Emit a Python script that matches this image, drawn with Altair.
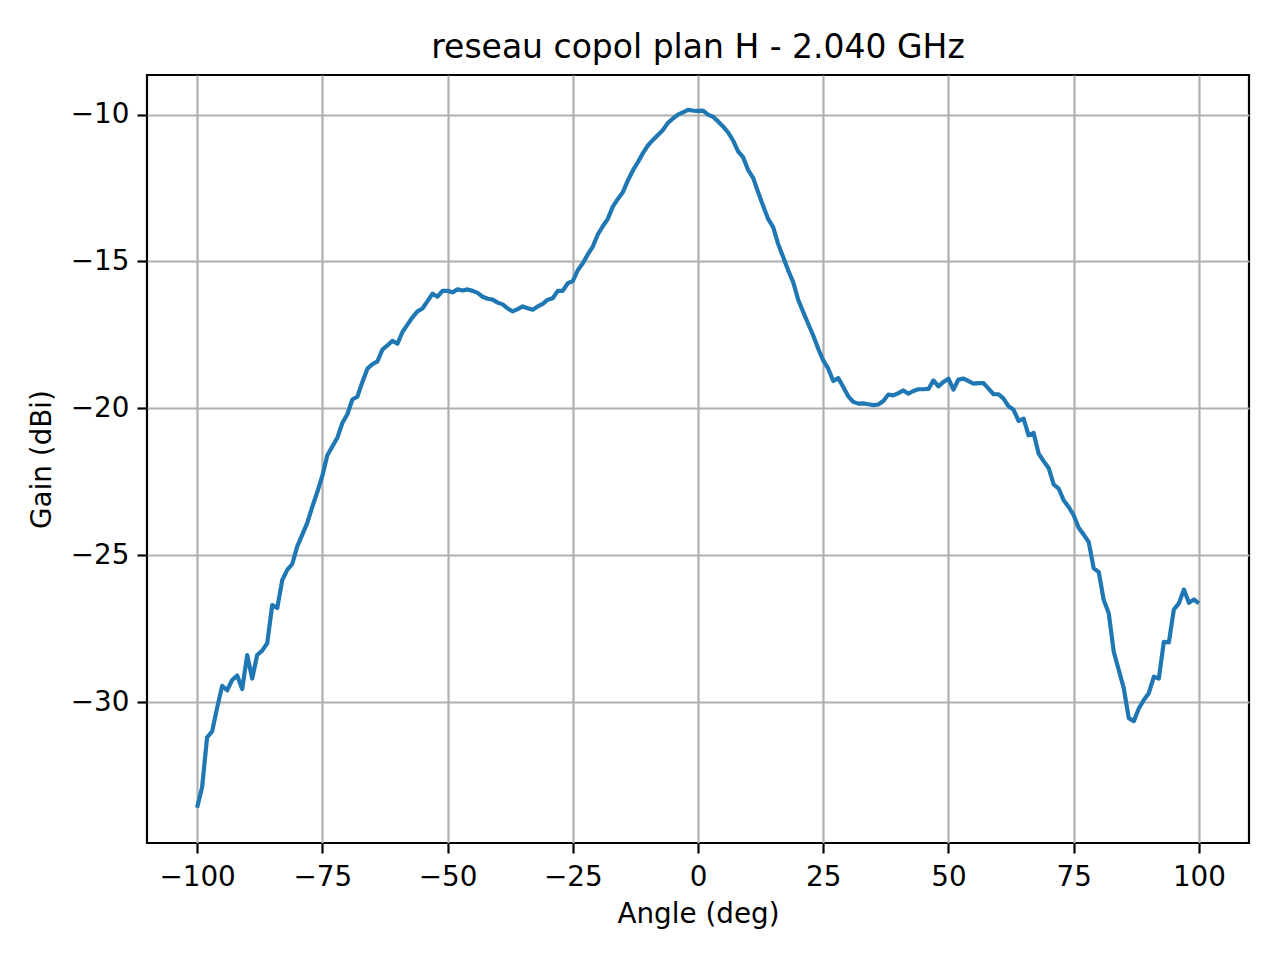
import pandas as pd
import altair as alt

# angle de mesure (deg), pas de 1 deg
angles = list(range(-100, 101))

# gain copolaire plan H (dBi)
gain = [
    -33.6, -32.9, -31.2, -31.0, -30.2, -29.45, -29.6, -29.25, -29.1, -29.56,
    -28.4, -29.2, -28.4, -28.25, -28.0, -26.7, -26.8, -25.85, -25.5, -25.3,
    -24.7, -24.3, -23.9, -23.35, -22.85, -22.3, -21.6, -21.3, -21.0, -20.5,
    -20.2, -19.7, -19.6, -19.1, -18.65, -18.5, -18.4, -18.0, -17.86, -17.7,
    -17.8, -17.4, -17.15, -16.9, -16.7, -16.6, -16.35, -16.1, -16.2, -16.0,
    -16.0, -16.05, -15.95, -15.99, -15.95, -16.0, -16.07, -16.2, -16.27, -16.3,
    -16.4, -16.46, -16.6, -16.7, -16.62, -16.53, -16.59, -16.64, -16.53, -16.44,
    -16.3, -16.25, -16.0, -16.0, -15.74, -15.67, -15.3, -15.06, -14.76, -14.49,
    -14.08, -13.8, -13.55, -13.13, -12.87, -12.64, -12.24, -11.9, -11.62, -11.31,
    -11.05, -10.86, -10.69, -10.52, -10.28, -10.13, -10.0, -9.92, -9.84, -9.86,
    -9.87,
    -9.86, -10.0, -10.07, -10.23, -10.4, -10.6, -10.88, -11.25, -11.45, -11.88,
    -12.15, -12.64, -13.1, -13.55, -13.83, -14.4, -14.85, -15.3, -15.7, -16.3,
    -16.72, -17.12, -17.52, -17.97, -18.37, -18.65, -19.07, -18.97, -19.27, -19.59,
    -19.78, -19.84, -19.83, -19.86, -19.89, -19.87, -19.75, -19.53, -19.56, -19.48,
    -19.39, -19.5, -19.41, -19.35, -19.35, -19.34, -19.05, -19.25, -19.1, -18.99,
    -19.36, -19.02, -18.99, -19.07, -19.16, -19.14, -19.14, -19.33, -19.52, -19.52,
    -19.67, -19.93, -20.05, -20.43, -20.35, -20.92, -20.84, -21.54, -21.8, -22.03,
    -22.59, -22.73, -23.13, -23.36, -23.64, -24.07, -24.3, -24.55, -25.45, -25.57,
    -26.53, -26.98, -28.29, -28.91, -29.53, -30.55, -30.65, -30.22, -29.93, -29.7,
    -29.14, -29.2, -27.95, -27.97, -26.85, -26.64, -26.17, -26.62, -26.51, -26.64,
]

x_ticks = [-100, -75, -50, -25, 0, 25, 50, 75, 100]
y_ticks = [-30, -25, -20, -15, -10]

df = pd.DataFrame({"Angle": angles, "Gain": gain})

FONT = "DejaVu Sans"
minus = "replace(datum.label, '-', '\u2212')"

chart = alt.Chart(df, title=alt.Title(
    "reseau copol plan H - 2.040 GHz",
    font=FONT, fontSize=33, fontWeight="normal", color="black", offset=10,
)).mark_line(
    color="#1f77b4", strokeWidth=4.2, strokeJoin="round"
).encode(
    x=alt.X("Angle:Q", title="Angle (deg)",
            scale=alt.Scale(domain=[-110, 110], nice=False, zero=False),
            axis=alt.Axis(values=x_ticks, format="d", labelExpr=minus)),
    y=alt.Y("Gain:Q", title="Gain (dBi)",
            scale=alt.Scale(domain=[-34.8, -8.65], nice=False, zero=False),
            axis=alt.Axis(values=y_ticks, format="d", labelExpr=minus)),
).properties(
    width=1102, height=768,
    autosize=alt.AutoSizeParams(type="none"),
    padding={"left": 139, "top": 67, "right": 23, "bottom": 109},
).configure_view(
    stroke="black", strokeWidth=2.2
).configure_axis(
    domain=False,
    grid=True, gridColor="#b0b0b0", gridWidth=2.2,
    tickColor="black", tickWidth=2.2, tickSize=10,
    labelFont=FONT, labelFontSize=27.8, labelColor="black", labelPadding=8,
    titleFont=FONT, titleFontSize=27.8, titleFontWeight="normal", titleColor="black",
    labelFlush=False, labelOverlap=False,
).configure_axisX(
    labelPadding=10, titlePadding=10
).configure_axisY(
    titlePadding=14
)

chart.save("out.html", embed_options={"renderer": "svg", "actions": False})
